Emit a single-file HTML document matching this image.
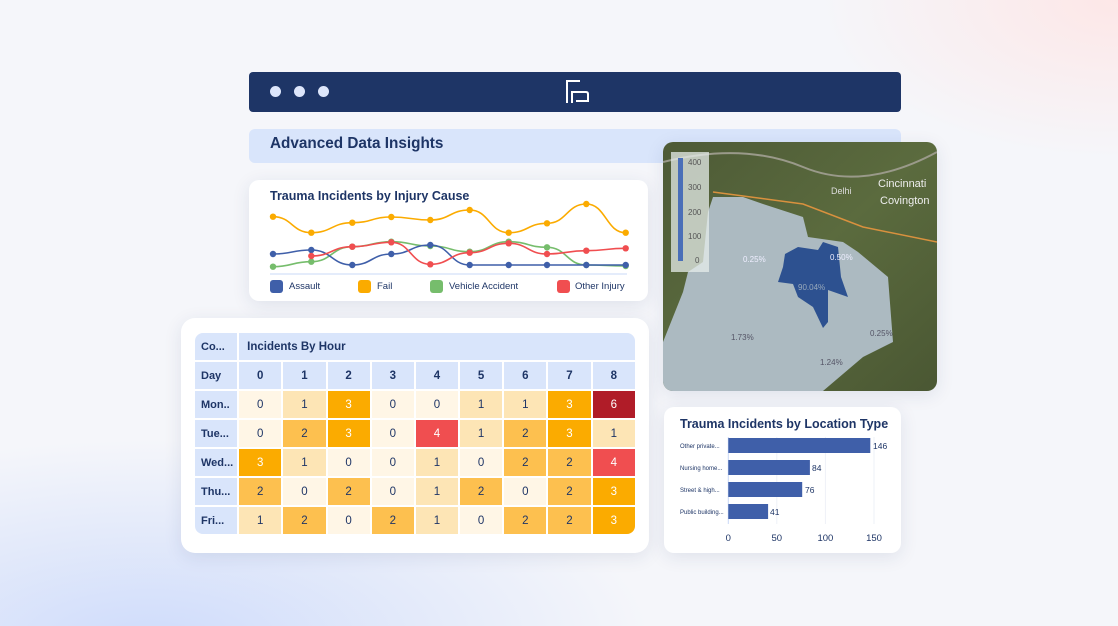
<!DOCTYPE html>
<html><head><meta charset="utf-8"><style>
body{margin:0;width:1118px;height:626px;overflow:hidden;font-family:"Liberation Sans",sans-serif;position:relative;
background:radial-gradient(ellipse 500px 200px at 150px 640px,#cfdcfb,rgba(207,220,251,0) 100%),radial-gradient(ellipse 300px 160px at 1118px 0,#fde7e7,rgba(253,231,231,0)),#f5f6fa;}
.abs{position:absolute}
.card{position:absolute;background:#fff;border-radius:10px;box-shadow:0 4px 18px rgba(30,53,102,.10)}
.t{color:#1e3566;font-weight:bold}
table{border-collapse:separate;border-spacing:2px;position:absolute;left:193px;top:331px;font-size:11.5px;color:#1e3566;table-layout:fixed;width:444px}
td{text-align:center;padding:0;height:27px;overflow:hidden;white-space:nowrap}
td.f{text-align:left;padding-left:0;text-indent:6px;background:#d9e5fb;font-weight:bold;font-size:11px}
</style></head><body>
<div class="abs" style="left:249px;top:72px;width:652px;height:40px;background:#1e3566;border-radius:4px"></div>
<div class="abs" style="left:270px;top:86px;width:11px;height:11px;border-radius:50%;background:#dde6fb"></div>
<div class="abs" style="left:294px;top:86px;width:11px;height:11px;border-radius:50%;background:#dde6fb"></div>
<div class="abs" style="left:318px;top:86px;width:11px;height:11px;border-radius:50%;background:#dde6fb"></div>
<svg class="abs" style="left:565px;top:79px" width="26" height="26"><path d="M2 24V2H15M7 24V13H21Q23 13 23 15V22H11" fill="none" stroke="#fff" stroke-width="2"/></svg>
<div class="abs" style="left:249px;top:129px;width:652px;height:34px;background:#d9e5fb;border-radius:6px"></div>
<div class="abs t" style="left:270px;top:135px;font-size:15.3px">Advanced Data Insights</div>

<div class="card" style="left:249px;top:180px;width:399px;height:121px"></div>
<div class="abs t" style="left:270px;top:189px;font-size:12.5px">Trauma Incidents by Injury Cause</div>
<svg class="abs" style="left:0;top:0" width="1118" height="626" id="lc">
<line x1="270" y1="274" x2="627" y2="274" stroke="#c9d8f7" stroke-width="1"/>
</svg>
<div class="abs" style="left:270px;top:280px;width:13px;height:13px;border-radius:3px;background:#3f5fa9"></div>
<div class="abs" style="left:289px;top:281px;font-size:9.5px;color:#1e3566">Assault</div>
<div class="abs" style="left:358px;top:280px;width:13px;height:13px;border-radius:3px;background:#fbab00"></div>
<div class="abs" style="left:377px;top:281px;font-size:9.5px;color:#1e3566">Fail</div>
<div class="abs" style="left:430px;top:280px;width:13px;height:13px;border-radius:3px;background:#76bd6c"></div>
<div class="abs" style="left:449px;top:281px;font-size:9.5px;color:#1e3566">Vehicle Accident</div>
<div class="abs" style="left:557px;top:280px;width:13px;height:13px;border-radius:3px;background:#f04e50"></div>
<div class="abs" style="left:575px;top:281px;font-size:9.5px;color:#1e3566">Other Injury</div>

<div class="card" style="left:181px;top:318px;width:468px;height:235px;border-radius:14px"></div>
<table id="hm"></table>

<div class="card" style="left:663px;top:142px;width:274px;height:249px;overflow:hidden">
<svg width="274" height="249">
<defs><linearGradient id="g" x1="0" y1="0" x2="1" y2="1"><stop offset="0" stop-color="#4d5a36"/><stop offset=".5" stop-color="#5b6b3e"/><stop offset="1" stop-color="#4a5733"/></linearGradient></defs>
<rect width="274" height="249" fill="url(#g)"/>
<path d="M0 20 Q80 0 140 25 T274 10" stroke="#9a9a8a" fill="none" stroke-width="2"/>
<path d="M50 50 L140 62 L200 85 L274 100" stroke="#d9913e" fill="none" stroke-width="1.5"/>
<path d="M50 55 L80 55 L100 62 L140 75 L145 95 L180 100 L195 110 L225 135 L230 200 L200 215 L160 249 L0 249 L0 200 L20 150 L25 130 L40 120 L45 70 Z" fill="#b3c1cb" opacity=".93"/>
<path d="M122 112 L135 105 L155 108 L160 100 L175 105 L178 135 L185 155 L165 148 L165 180 L160 186 L150 165 L135 155 L130 142 L115 140 L120 125 Z" fill="#2d5190"/>
<rect x="8" y="10" width="38" height="120" fill="#e6ece9" opacity=".75"/>
<rect x="15" y="16" width="5" height="103" fill="#4a6fb8"/>
<g font-size="8" fill="#555" font-family="Liberation Sans"><text x="25" y="23">400</text><text x="25" y="48">300</text><text x="25" y="73">200</text><text x="25" y="97">100</text><text x="32" y="121">0</text>
<text x="80" y="120" fill="#eef">0.25%</text><text x="167" y="118" fill="#eef">0.50%</text><text x="135" y="148" fill="#9ab">90.04%</text><text x="68" y="198" fill="#556">1.73%</text><text x="207" y="194" fill="#556">0.25%</text><text x="157" y="223" fill="#556">1.24%</text>
<text x="215" y="45" fill="#eee" font-size="11">Cincinnati</text><text x="217" y="62" fill="#eee" font-size="11">Covington</text><text x="168" y="52" fill="#ddd" font-size="9">Delhi</text></g>
</svg></div>

<div class="card" style="left:664px;top:407px;width:237px;height:146px"></div>
<div class="abs t" style="left:680px;top:417px;font-size:12.5px">Trauma Incidents by Location Type</div>
<svg class="abs" style="left:0;top:0" width="1118" height="626" font-family="Liberation Sans">
<g stroke="#eef1f7"><line x1="776.8" y1="437" x2="776.8" y2="524"/><line x1="825.4" y1="437" x2="825.4" y2="524"/><line x1="874" y1="437" x2="874" y2="524"/></g>
<line x1="728.3" y1="437" x2="728.3" y2="524" stroke="#c9d8f7"/>
<g fill="#3f5fa9"><rect x="728.3" y="438" width="142" height="15"/><rect x="728.3" y="460" width="81.6" height="15"/><rect x="728.3" y="482" width="73.9" height="15"/><rect x="728.3" y="504" width="39.8" height="15"/></g>
<g font-size="8.5" fill="#1e3566"><text x="873" y="449">146</text><text x="812" y="471">84</text><text x="805" y="493">76</text><text x="770" y="515">41</text></g>
<g font-size="6" fill="#1e3566"><text x="680" y="448">Other private...</text><text x="680" y="470">Nursing home...</text><text x="680" y="492">Street &amp; high...</text><text x="680" y="514">Public building...</text></g>
<g font-size="9.5" fill="#1e3566" text-anchor="middle"><text x="728.3" y="541">0</text><text x="776.8" y="541">50</text><text x="825.4" y="541">100</text><text x="874" y="541">150</text></g>
</svg>

<script>
const X=[273,311.3,352.3,391.3,430.3,469.7,508.7,547,586.3,625.7];
const S=[["#76bd6c",[266.7,261.7,246.7,241.7,246,251.7,241.7,247.3,265,266],0],
["#3f5fa9",[254,250,265,254,245,265,265,265,265,265],0],
["#f04e50",[null,256,246.7,242.3,264.3,252.7,243.3,254,250.7,248.3],1],
["#fbab00",[216.7,232.7,222.7,217,220,210,232.7,223.3,204,232.7],0]];
let h="";
for(const [c,ys,st] of S){let d="";let dots="";
for(let i=st;i<10;i++){const x=X[i],y=ys[i];
if(i==st)d+=`M${x} ${y}`;else{const px=X[i-1],py=ys[i-1],dx=(x-px)/2;d+=` C${px+dx} ${py} ${x-dx} ${y} ${x} ${y}`;}
dots+=`<circle cx="${x}" cy="${y}" r="3.2" fill="${c}"/>`;}
h+=`<path d="${d}" fill="none" stroke="${c}" stroke-width="1.6"/>`+dots;}
document.getElementById("lc").insertAdjacentHTML("beforeend",h);
const col={0:"#fff6e6",1:"#fde5b5",2:"#fdc04f",3:"#fbab00",4:"#f04e50",6:"#b01c28"};
const D=[["Mon..",[0,1,3,0,0,1,1,3,6]],["Tue...",[0,2,3,0,4,1,2,3,1]],["Wed...",[3,1,0,0,1,0,2,2,4]],["Thu...",[2,0,2,0,1,2,0,2,3]],["Fri...",[1,2,0,2,1,0,2,2,3]]];
const hd='style="background:#d9e5fb;font-weight:bold"';
let t=`<colgroup><col style="width:42px">`+`<col style="width:42px">`.repeat(9)+`</colgroup>`;
t+=`<tr><td class="f" style="border-top-left-radius:8px">Co...</td><td colspan="9" style="background:#d9e5fb;font-weight:bold;text-align:left;padding-left:8px;border-top-right-radius:8px">Incidents By Hour</td></tr>`;
t+=`<tr><td class="f">Day</td>`;for(let i=0;i<9;i++)t+=`<td ${hd}>${i}</td>`;t+="</tr>";
D.forEach(([d,v],r)=>{t+=`<tr><td class="f" style="${r==4?'border-bottom-left-radius:8px':''}">${d}</td>`;
v.forEach((n,i)=>{t+=`<td style="background:${col[n]};color:${n>=3?'#fff':'#1e3566'};${r==4&&i==8?'border-bottom-right-radius:8px':''}">${n}</td>`});t+="</tr>";});
document.getElementById("hm").innerHTML=t;
</script>
</body></html>
